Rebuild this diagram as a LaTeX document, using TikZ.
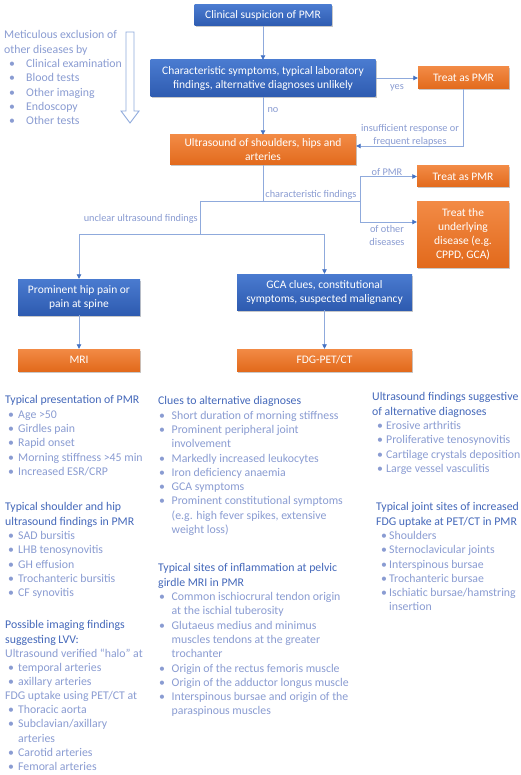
\documentclass[tikz,border=0pt]{standalone}
\usepackage{fontspec}
\setmainfont{Carlito}
\usetikzlibrary{arrows.meta,shadows,calc}
\definecolor{bluetop}{HTML}{4A7BD0}
\definecolor{bluebot}{HTML}{2E5BB0}
\definecolor{orangetop}{HTML}{F28A45}
\definecolor{orangebot}{HTML}{E26A1C}
\definecolor{headc}{HTML}{4468BA}
\definecolor{itemc}{HTML}{8A9CD2}
\definecolor{linec}{HTML}{8FAADC}
\definecolor{tipc}{HTML}{4472C4}
\newcommand\bitem[3]{\hspace*{#1}\makebox[#2][l]{\textbullet}#3}
\tikzset{
  flowbox/.style={draw=none, text=white, align=center, inner sep=0pt,
    font=\fontsize{11.5}{14}\selectfont,
    drop shadow={shadow xshift=1pt, shadow yshift=-1.5pt, opacity=0.3, fill=black!70}},
  bluebox/.style={flowbox, top color=bluetop, bottom color=bluebot},
  orangebox/.style={flowbox, top color=orangetop, bottom color=orangebot},
  conn/.style={draw=linec, line width=0.8pt},
  arr/.style={conn, -{Triangle[length=4.5pt,width=4.5pt,color=tipc]}},
  lab/.style={text=itemc, font=\fontsize{10.3}{13}\selectfont, inner sep=0pt, align=center},
  txt/.style={text=itemc, font=\fontsize{11.8}{14.3}\selectfont, inner sep=0pt, align=left, anchor=north west}
}
\begin{document}
\begin{tikzpicture}[x=1pt,y=-1pt]
\fill[white] (0,0) rectangle (520,775);
\useasboundingbox (0,0) rectangle (520,775);

% flow boxes
\node[bluebox, minimum width=137pt, minimum height=21pt] (clin) at (263,15.5) {Clinical suspicion of PMR};
\node[bluebox, minimum width=225pt, minimum height=37pt] (char) at (263,78.5) {Characteristic symptoms, typical laboratory\\findings, alternative diagnoses unlikely};
\node[orangebox, minimum width=91pt, minimum height=22pt] (treat1) at (463.5,78) {Treat as PMR};
\node[orangebox, minimum width=186pt, minimum height=30pt] (us) at (263,150) {Ultrasound of shoulders, hips and\\arteries};
\node[orangebox, minimum width=92pt, minimum height=21pt] (treat2) at (463,176.5) {Treat as PMR};
\node[orangebox, minimum width=92pt, minimum height=65pt] (under) at (463,234.5) {Treat the\\underlying\\disease (e.g.\\CPPD, GCA)};
\node[bluebox, minimum width=122pt, minimum height=36pt] (hip) at (79,297) {Prominent hip pain or\\pain at spine};
\node[bluebox, minimum width=175pt, minimum height=36pt] (gca) at (324.5,292) {GCA clues, constitutional\\symptoms, suspected malignancy};
\node[orangebox, minimum width=122pt, minimum height=22pt] (mri) at (79,360) {MRI};
\node[orangebox, minimum width=175pt, minimum height=22pt] (fdg) at (324.5,360) {FDG-PET/CT};

% connectors
\draw[arr] (clin) -- (char);
\draw[arr] (char.east |- treat1) -- (treat1.west);
\draw[arr] (char.south) -- (char.south |- us.north);
\coordinate (fbin) at ($(us.east)+(0,-4)$);
\draw[arr] (treat1.south) |- (fbin);

\coordinate (sl) at (200,201);
\coordinate (sr) at (360,201);
\coordinate (srd) at (360,222);
\coordinate (slb) at (200,234);
\coordinate (hl) at (79,234);
\coordinate (hr) at (324.5,234);
\draw[conn] (us.south) -- (us.south |- sl);
\draw[conn] (sl) -- (sr);
\draw[arr] (sr) |- (treat2.west);
\draw[arr] (sr) |- (srd -| under.west);
\draw[conn] (sl) -- (slb);
\draw[conn] (hl) -- (hr);
\draw[arr] (hl) -- (hip.north);
\draw[arr] (hr) -- (gca.north);
\draw[arr] (hip) -- (mri);
\draw[arr] (gca) -- (fdg);

% connector labels
\node[lab] (lyes) at (397,88) {yes};
\node[lab] (lno) at (273,110) {no};
\node[lab] (lins) at (410,135) {insufficient response or\\frequent relapses};
\node[lab] (lchar) at (311,195) {characteristic findings};
\node[lab, anchor=east] (lunc) at (198,219) {unclear ultrasound findings};
\node[lab] (lpmr) at (387,172) {of PMR};
\node[lab] (loth) at (387,235) {of other\\diseases};

% hollow arrow
\draw[linec, line width=0.9pt, fill=white, line join=miter] (126,32) -- (134,32) -- (134,111) -- (139,111) -- (130,123) -- (121,111) -- (126,111) -- cycle;

% text blocks
\node[txt] (excl) at (4,30.5) {Meticulous exclusion of\\other diseases by\\
\bitem{5pt}{17pt}{Clinical examination}\\
\bitem{5pt}{17pt}{Blood tests}\\
\bitem{5pt}{17pt}{Other imaging}\\
\bitem{5pt}{17pt}{Endoscopy}\\
\bitem{5pt}{17pt}{Other tests}};

\node[txt] (pres) at (5,395.5) {\textcolor{headc}{Typical presentation of PMR}\\
\bitem{3pt}{10pt}{Age >50}\\
\bitem{3pt}{10pt}{Girdles pain}\\
\bitem{3pt}{10pt}{Rapid onset}\\
\bitem{3pt}{10pt}{Morning stiffness >45 min}\\
\bitem{3pt}{10pt}{Increased ESR/CRP}};

\node[txt] (shus) at (5,502.5) {\textcolor{headc}{Typical shoulder and hip}\\
\textcolor{headc}{ultrasound findings in PMR}\\
\bitem{3pt}{10pt}{SAD bursitis}\\
\bitem{3pt}{10pt}{LHB tenosynovitis}\\
\bitem{3pt}{10pt}{GH effusion}\\
\bitem{3pt}{10pt}{Trochanteric bursitis}\\
\bitem{3pt}{10pt}{CF synovitis}};

\node[txt, font=\fontsize{11.8}{14.15}\selectfont] (lvv) at (5,620.5) {\textcolor{headc}{Possible imaging findings}\\
\textcolor{headc}{suggesting LVV:}\\
Ultrasound verified “halo” at\\
\bitem{3pt}{10pt}{temporal arteries}\\
\bitem{3pt}{10pt}{axillary arteries}\\
FDG uptake using PET/CT at\\
\bitem{3pt}{10pt}{Thoracic aorta}\\
\bitem{3pt}{10pt}{Subclavian/axillary}\\
\hspace*{13pt}arteries\\
\bitem{3pt}{10pt}{Carotid arteries}\\
\bitem{3pt}{10pt}{Femoral arteries}};

\node[txt] (clues) at (158,396.5) {\textcolor{headc}{Clues to alternative diagnoses}\\
\bitem{1pt}{12.5pt}{Short duration of morning stiffness}\\
\bitem{1pt}{12.5pt}{Prominent peripheral joint}\\
\hspace*{13.5pt}involvement\\
\bitem{1pt}{12.5pt}{Markedly increased leukocytes}\\
\bitem{1pt}{12.5pt}{Iron deficiency anaemia}\\
\bitem{1pt}{12.5pt}{GCA symptoms}\\
\bitem{1pt}{12.5pt}{Prominent constitutional symptoms}\\
\hspace*{13.5pt}(e.g. high fever spikes, extensive\\
\hspace*{13.5pt}weight loss)};

\node[txt] (mrisites) at (158,563.5) {\textcolor{headc}{Typical sites of inflammation at pelvic}\\
\textcolor{headc}{girdle MRI in PMR}\\
\bitem{1pt}{12.5pt}{Common ischiocrural tendon origin}\\
\hspace*{13.5pt}at the ischial tuberosity\\
\bitem{1pt}{12.5pt}{Glutaeus medius and minimus}\\
\hspace*{13.5pt}muscles tendons at the greater\\
\hspace*{13.5pt}trochanter\\
\bitem{1pt}{12.5pt}{Origin of the rectus femoris muscle}\\
\bitem{1pt}{12.5pt}{Origin of the adductor longus muscle}\\
\bitem{1pt}{12.5pt}{Interspinous bursae and origin of the}\\
\hspace*{13.5pt}paraspinous muscles};

\node[txt] (usalt) at (372,392.5) {\textcolor{headc}{Ultrasound findings suggestive}\\
\textcolor{headc}{of alternative diagnoses}\\
\bitem{5pt}{9pt}{Erosive arthritis}\\
\bitem{5pt}{9pt}{Proliferative tenosynovitis}\\
\bitem{5pt}{9pt}{Cartilage crystals deposition}\\
\bitem{5pt}{9pt}{Large vessel vasculitis}};

\node[txt] (fdgsites) at (376,502.5) {\textcolor{headc}{Typical joint sites of increased}\\
\textcolor{headc}{FDG uptake at PET/CT in PMR}\\
\bitem{5pt}{8pt}{Shoulders}\\
\bitem{5pt}{8pt}{Sternoclavicular joints}\\
\bitem{5pt}{8pt}{Interspinous bursae}\\
\bitem{5pt}{8pt}{Trochanteric bursae}\\
\bitem{5pt}{8pt}{Ischiatic bursae/hamstring}\\
\hspace*{13pt}insertion};
\end{tikzpicture}
\end{document}
